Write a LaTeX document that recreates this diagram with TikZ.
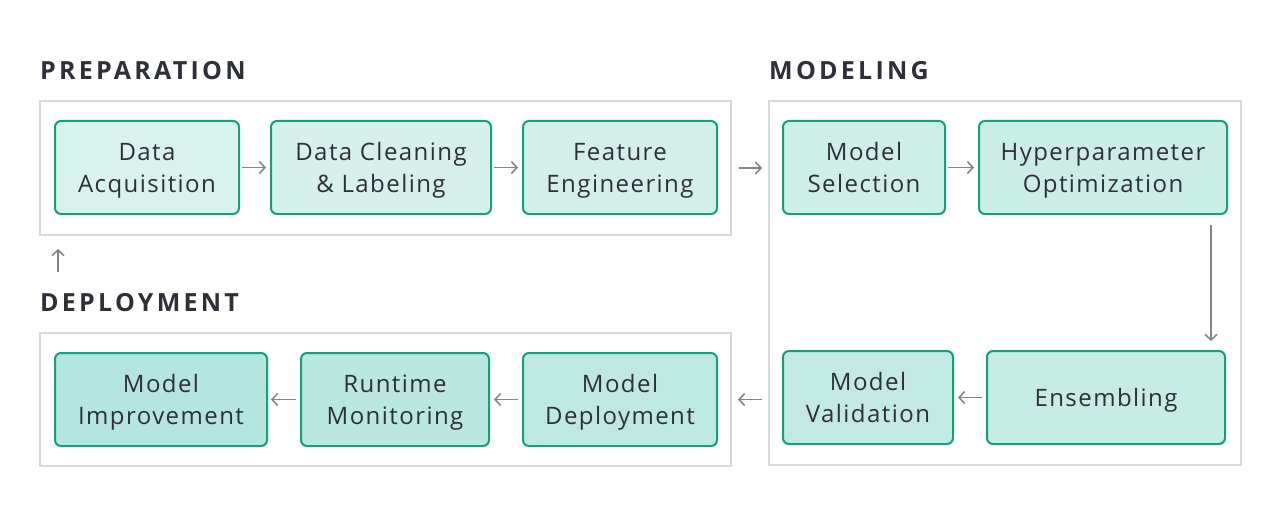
\documentclass[tikz,border=0pt]{standalone}
\usepackage{fontspec}
\setmainfont{Open Sans}
\usetikzlibrary{arrows.meta,calc}
\definecolor{txt}{HTML}{2F2F3A}
\definecolor{edge}{HTML}{12A07E}
\definecolor{frame}{HTML}{D9D9D9}
\definecolor{arr}{HTML}{858585}
\definecolor{f1}{HTML}{D8F2EC}
\definecolor{f2}{HTML}{D5F1EA}
\definecolor{f3}{HTML}{D2F0E8}
\definecolor{f4}{HTML}{CEEFE6}
\definecolor{f5}{HTML}{CAEDE5}
\definecolor{f6}{HTML}{C6ECE4}
\definecolor{f7}{HTML}{C2EAE3}
\definecolor{f8}{HTML}{BEE9E2}
\definecolor{f9}{HTML}{BAE7E0}
\definecolor{f10}{HTML}{B4E5DE}
\newcommand{\lbl}[1]{\raisebox{-2.5pt}[\height][\depth]{\begin{tabular}{@{}c@{}}#1\end{tabular}}}
\tikzset{
  x=1pt,y=-1pt,
  stage/.style={draw=edge,line width=2pt,rounded corners=6pt,inner sep=0pt,align=center,
    text=txt,font=\fontsize{24}{32}\selectfont\addfontfeature{LetterSpace=6}},
  group/.style={draw=frame,line width=2pt,inner sep=0pt},
  ttl/.style={anchor=base west,inner sep=0pt,text=txt,font=\fontsize{25}{28}\selectfont\bfseries\addfontfeature{LetterSpace=13}},
  flow/.style={draw=arr,line width=1.6pt,-{Straight Barb[length=5.5pt,width=12pt,line width=1.6pt]}}
}
\begin{document}
\begin{tikzpicture}
\useasboundingbox (0,0) rectangle (1282,524);
% containers
\node[group,minimum width=691pt,minimum height=134pt] (prep) at (385.5,168) {};
\node[group,minimum width=472pt,minimum height=364pt] (model) at (1005,283) {};
\node[group,minimum width=691pt,minimum height=133pt] (deploy) at (385.5,399.5) {};
% titles
\node[ttl] (tprep) at (40,80) {PREPARATION};
\node[ttl] (tmodel) at (769,80) {MODELING};
\node[ttl] (tdeploy) at (40,311) {DEPLOYMENT};
% stages
\node[stage,fill=f1,minimum width=184pt,minimum height=93pt] (acq) at (147,167.5) {\lbl{Data\\Acquisition}};
\node[stage,fill=f2,minimum width=220pt,minimum height=93pt] (clean) at (381,167.5) {\lbl{Data Cleaning\\\& Labeling}};
\node[stage,fill=f3,minimum width=194pt,minimum height=93pt] (feat) at (620,167.5) {\lbl{Feature\\Engineering}};
\node[stage,fill=f4,minimum width=162pt,minimum height=93pt] (sel) at (864,167.5) {\lbl{Model\\Selection}};
\node[stage,fill=f5,minimum width=248pt,minimum height=93pt] (hyp) at (1103,167.5) {\lbl{Hyperparameter\\Optimization}};
\node[stage,fill=f6,minimum width=238pt,minimum height=93pt] (ens) at (1106,397.5) {\lbl{Ensembling}};
\node[stage,fill=f7,minimum width=170pt,minimum height=93pt] (val) at (868,397.5) {\lbl{Model\\Validation}};
\node[stage,fill=f8,minimum width=194pt,minimum height=93pt] (dep) at (620,399.5) {\lbl{Model\\Deployment}};
\node[stage,fill=f9,minimum width=188pt,minimum height=93pt] (mon) at (395,399.5) {\lbl{Runtime\\Monitoring}};
\node[stage,fill=f10,minimum width=212pt,minimum height=93pt] (imp) at (161,399.5) {\lbl{Model\\Improvement}};
% connectors
\draw[flow,shorten <=2pt,shorten >=4pt] (acq) -- (clean);
\draw[flow,shorten <=2pt,shorten >=4pt] (clean) -- (feat);
\draw[flow,shorten <=7pt,shorten >=6pt] (prep.east) -- (prep.east -| model.west);
\draw[flow,shorten <=2pt,shorten >=4pt] (sel) -- (hyp);
\coordinate (hdown) at ($(hyp.south east)+(-17,0)$);
\draw[flow,shorten <=10pt,shorten >=9pt] (hdown) -- (hdown |- ens.north);
\draw[flow,shorten <=4pt,shorten >=4pt] (ens) -- (val);
\draw[flow,shorten <=6pt,shorten >=6pt] (model.west |- deploy.east) -- (deploy.east);
\draw[flow,shorten <=4pt,shorten >=4pt] (dep) -- (mon);
\draw[flow,shorten <=4pt,shorten >=3pt] (mon) -- (imp);
\coordinate (upstart) at (58,272);
\draw[flow,shorten >=13pt] (upstart) -- (upstart |- prep.south);
\end{tikzpicture}
\end{document}
